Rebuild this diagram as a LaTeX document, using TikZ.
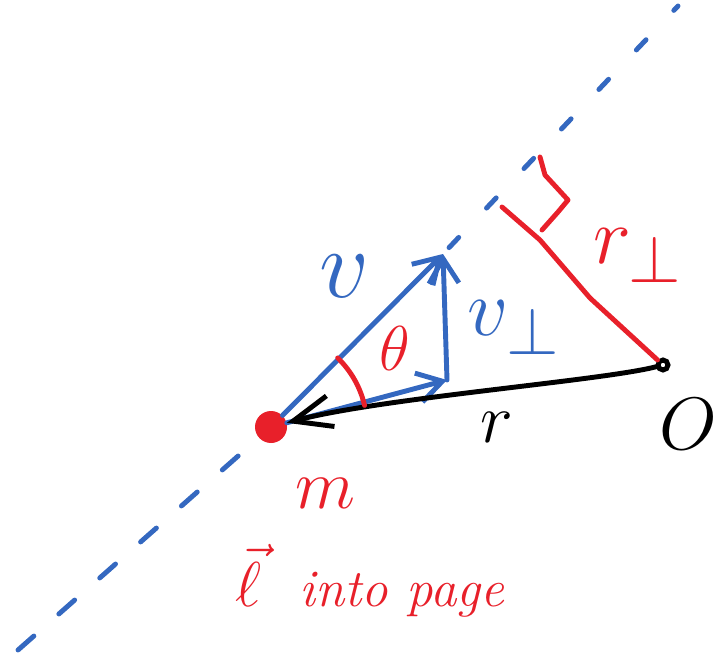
\documentclass[tikz,border=0pt]{standalone}
\usepackage{xcolor}
\usetikzlibrary{arrows.meta}
\definecolor{pen-blue}{HTML}{3468C0}
\definecolor{pen-red}{HTML}{E8202A}

\begin{document}
\begin{tikzpicture}[x=0.02cm, y=0.02cm,
    every node/.style={inner sep=0pt},
    pen/.style={line width=2.8pt, line cap=round, line join=round},
    barb/.style={-{Straight Barb[length=14pt, width=17pt]}},
    big/.style={font=\Huge, scale=#1}]
  \useasboundingbox (0,0) rectangle (722,653);
  \node[circle, fill=pen-red, minimum size=0.64cm] (m) at (271,226) {};
  \node[circle, draw=black, line width=2.8pt, fill=white, minimum size=0.2cm] (O) at (663,288) {};
  \coordinate (vtip) at (443,399);
  \coordinate (vfoot) at (447,273);
  \coordinate (foot) at (502,446);
  \coordinate (lineS) at (18,3);
  \coordinate (lineE) at (678,647);
  % line of motion
  \draw[pen, pen-blue, dash pattern=on 12pt off 19pt] (lineS) -- (m);
  \draw[pen, pen-blue, dash pattern=on 8pt off 23pt, dash phase=26pt] (vtip) -- (lineE);
  % velocity
  \draw[pen, pen-blue, barb] (m) -- (vtip);
  \draw[pen, pen-blue, barb] (m) -- (vfoot);
  \draw[pen, pen-blue, barb] (vfoot) -- (vtip);
  % r from O
  \draw[pen, black, -{Straight Barb[length=22pt, width=18pt]}]
    (O) .. controls (600,272) and (380,255) .. (m);
  % r perp
  \draw[pen, pen-red] (O) -- (590,355) -- (540,413) -- (foot);
  \draw[pen, pen-red] (540,496) -- (545,478) -- (557,465) -- (568,453) -- (558,441) -- (542,423);
  \draw[pen, pen-red] (m.center) ++(46:96) arc[start angle=46, end angle=13, radius=96];
  % labels
  \node[big=2.25, text=pen-blue] (lv) at (345,377) {$v$};
  \node[big=1.85, text=pen-blue] (lvperp) at (514,325) {$v_\perp$};
  \node[big=1.45, text=pen-red] (ltheta) at (395,305) {$\theta$};
  \node[big=1.85, text=pen-red] (lrperp) at (638,397) {$r_\perp$};
  \node[big=1.6] (lr) at (497,226) {$r$};
  \node[big=1.7] (lO) at (688,229) {$O$};
  \node[big=1.6, text=pen-red] (lm) at (325,160) {$m$};
  \node[big=1.45, text=pen-red] (lpage) at (370,72)
    {$\vec{\ell}$\hspace{0.6em}\huge\itshape into page};
\end{tikzpicture}
\end{document}
